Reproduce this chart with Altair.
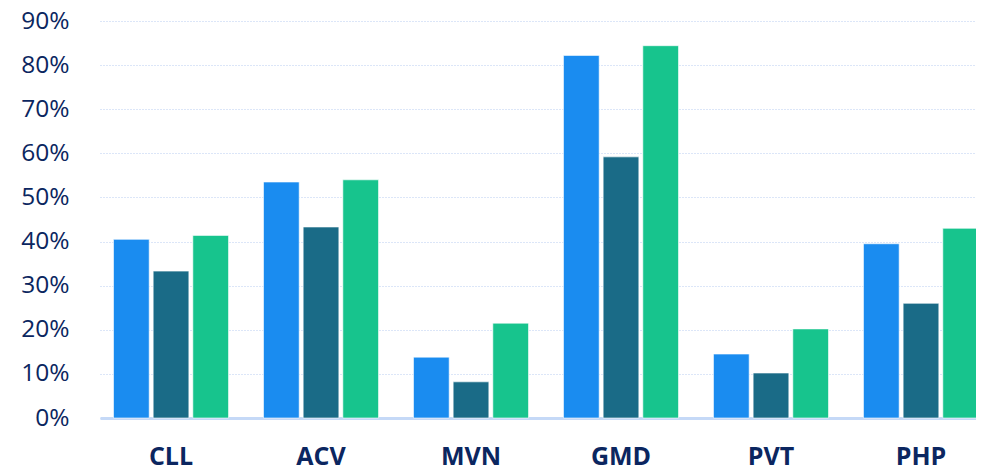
import altair as alt
import pandas as pd

categories = ["CLL", "ACV", "MVN", "GMD", "PVT", "PHP"]
series_names = ["Series A", "Series B", "Series C"]
series_a = [40.5, 53.5, 13.8, 82.2, 14.5, 39.5]
series_b = [33.3, 43.3, 8.2, 59.2, 10.2, 26.0]
series_c = [41.4, 54.0, 21.5, 84.4, 20.2, 43.0]
colors = ["#1a8cf0", "#1a6b87", "#17c48d"]

rows = []
for i, c in enumerate(categories):
    for name, vals in zip(series_names, [series_a, series_b, series_c]):
        rows.append({"category": c, "series": name, "value": vals[i]})
df = pd.DataFrame(rows)

chart = alt.Chart(df).mark_bar(stroke="#ffffff", strokeWidth=1, strokeOpacity=0.6).encode(
    x=alt.X("category:N", sort=categories, title=None,
            scale=alt.Scale(paddingInner=0.233, paddingOuter=0.09, round=False,
                            range=[0, 892]),
            axis=alt.Axis(labelAngle=0, labelFont="Open Sans", labelFontSize=25,
                          labelFontWeight="bold", labelColor="#0b2660",
                          labelPadding=26, ticks=False, domainColor="#c5d9f7",
                          domainWidth=3, grid=False)),
    xOffset=alt.XOffset("series:N", sort=series_names,
                        scale=alt.Scale(paddingInner=0.1, paddingOuter=0, round=False)),
    y=alt.Y("value:Q", title=None,
            scale=alt.Scale(domain=[0, 90], nice=False),
            axis=alt.Axis(values=list(range(0, 100, 10)), labelExpr="datum.value + '%'",
                          labelFont="Open Sans", labelFontSize=24.5, labelColor="#0b2660",
                          labelPadding=31, ticks=False, domain=False,
                          gridColor="#b8cdf0", gridDash=[1, 2], gridWidth=1)),
    color=alt.Color("series:N", sort=series_names, legend=None,
                    scale=alt.Scale(domain=series_names, range=colors)),
).properties(
    width=876, height=397,
    autosize=alt.AutoSizeParams(type="none"),
    padding={"left": 92, "top": 13, "right": 0, "bottom": 56},
).configure_view(stroke=None)

chart.save("out.html", embed_options={"renderer": "svg", "actions": False})
